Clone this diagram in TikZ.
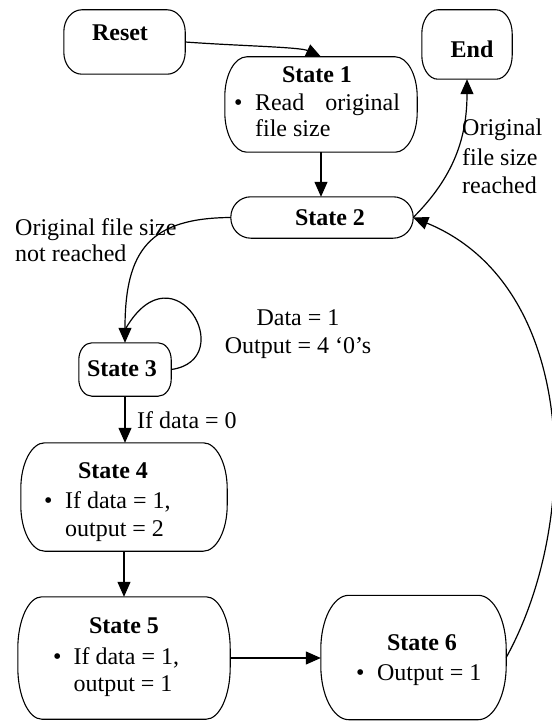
\documentclass[tikz,border=0pt]{standalone}
\usepackage{fontspec}
\setmainfont{Liberation Serif}
\usetikzlibrary{arrows.meta,calc}

% outline of a state box with elliptical corners: node name, x radius, y radius
\newcommand{\stateoutline}[3]{%
  \draw[boxline] ($(#1.north west)+(#2,0)$) -- ($(#1.north east)+(-#2,0)$)
    arc[start angle=90, end angle=0, x radius=#2, y radius=#3]
    -- ($(#1.south east)+(0,#3)$)
    arc[start angle=0, end angle=-90, x radius=#2, y radius=#3]
    -- ($(#1.south west)+(#2,0)$)
    arc[start angle=270, end angle=180, x radius=#2, y radius=#3]
    -- ($(#1.north west)+(0,-#3)$)
    arc[start angle=180, end angle=90, x radius=#2, y radius=#3] -- cycle;}

\begin{document}
\begin{tikzpicture}[x=1pt,y=1pt,
  box/.style={inner sep=0pt},
  boxline/.style={line width=1.1pt},
  ttl/.style={font=\bfseries\fontsize{24}{28}\selectfont, anchor=base, inner sep=0pt},
  txt/.style={font=\fontsize{24}{#1}\selectfont, anchor=base west, inner sep=0pt},
  txt/.default=27.5pt,
  ctr/.style={font=\fontsize{24}{28}\selectfont, anchor=base, inner sep=0pt},
  arr/.style={line width=1.2pt, -{Triangle[length=15pt,width=13pt]}},
  wire/.style={line width=1.2pt}]

\useasboundingbox (0,0) rectangle (551,-722);
\fill[white] (0,0) rectangle (551,-722);

% state boxes
\node[box, minimum width=121pt, minimum height=64pt]  (reset) at (124.5,-42)   {};
\node[box, minimum width=90pt,  minimum height=69pt]  (end)   at (467,-44.5)   {};
\node[box, minimum width=192pt, minimum height=95pt]  (s1)    at (321,-104.5)  {};
\node[box, minimum width=182pt, minimum height=41pt]  (s2)    at (322,-217.5)  {};
\node[box, minimum width=92pt,  minimum height=53pt]  (s3)    at (125,-369.5)  {};
\node[box, minimum width=206pt, minimum height=108pt] (s4)    at (124,-497)    {};
\node[box, minimum width=212pt, minimum height=122pt] (s5)    at (124,-658)    {};
\node[box, minimum width=185pt, minimum height=124pt] (s6)    at (413.5,-657.5){};

\stateoutline{reset}{18pt}{22pt}
\stateoutline{end}{16pt}{24pt}
\stateoutline{s1}{22pt}{40pt}
\stateoutline{s2}{20pt}{20.5pt}
\stateoutline{s3}{13pt}{17pt}
\stateoutline{s4}{24pt}{46pt}
\stateoutline{s5}{24pt}{52pt}
\stateoutline{s6}{28pt}{54pt}

% box titles
\node[ttl] (resetT) at (120,-41)  {Reset};
\node[ttl] (endT)   at (472,-58)  {End};
\node[ttl] (s1T)    at (317,-83)  {State 1};
\node[ttl] (s2T)    at (330,-225) {State 2};
\node[ttl] (s3T)    at (122,-376) {State 3};
\node[ttl] (s4T)    at (113,-478) {State 4};
\node[ttl] (s5T)    at (124,-633) {State 5};
\node[ttl] (s6T)    at (422,-650) {State 6};

% box contents
\node[txt=26pt] (s1B) at (234,-111)
  {\begin{tabular}[t]{@{}l@{\hspace{12.5pt}}l@{}}\textbullet & Read\hspace{21pt}original\\ & file size\end{tabular}};
\node[txt=28pt] (s4B) at (44,-508)
  {\begin{tabular}[t]{@{}l@{\hspace{12.5pt}}l@{}}\textbullet & If data = 1,\\ & output = 2\end{tabular}};
\node[txt=27pt] (s5B) at (53,-664)
  {\begin{tabular}[t]{@{}l@{\hspace{12pt}}l@{}}\textbullet & If data = 1,\\ & output = 1\end{tabular}};
\node[txt] (s6B) at (356,-680)
  {\begin{tabular}[t]{@{}l@{\hspace{12.5pt}}l@{}}\textbullet & Output = 1\end{tabular}};

% transition labels
\node[txt=26pt] (lblNot) at (15,-235)
  {\begin{tabular}[t]{@{}l@{}}Original file size\\not reached\end{tabular}};
\node[txt=29pt] (lblEnd) at (462,-136)
  {\begin{tabular}[t]{@{}l@{}}Original\\file size\\reached\end{tabular}};
\node[ctr] (lblLoop) at (298,-325)
  {\begin{tabular}[t]{@{}c@{}}Data = 1\\Output = 4 ‘0’s\end{tabular}};
\node[txt] (lblZero) at (137,-428) {If data = 0};

% transitions
\draw[arr] (reset.east) .. controls (240,-46) and (300,-47) .. (s1.north);
\draw[arr] (s1.south) -- (s1.south |- s2.north);
\draw[arr] (s2.east) to[out=45,in=-90] (end.south);
\draw[arr] (s2.west) .. controls (150,-218) and (125,-250) .. (s3.north);
\coordinate (loopend) at (126,-328);
\draw[wire] (s3.east) .. controls (240,-360) and (175,-245) .. (loopend);
\draw[arr] (s3.south) -- (s3.south |- s4.north);
\draw[arr] (s4.south) -- (s4.south |- s5.north);
\draw[arr] (s5.east) -- (s5.east -| s6.west);
\draw[arr] (s6.east) .. controls (582,-520) and (578,-285) .. (s2.east);
\end{tikzpicture}
\end{document}
